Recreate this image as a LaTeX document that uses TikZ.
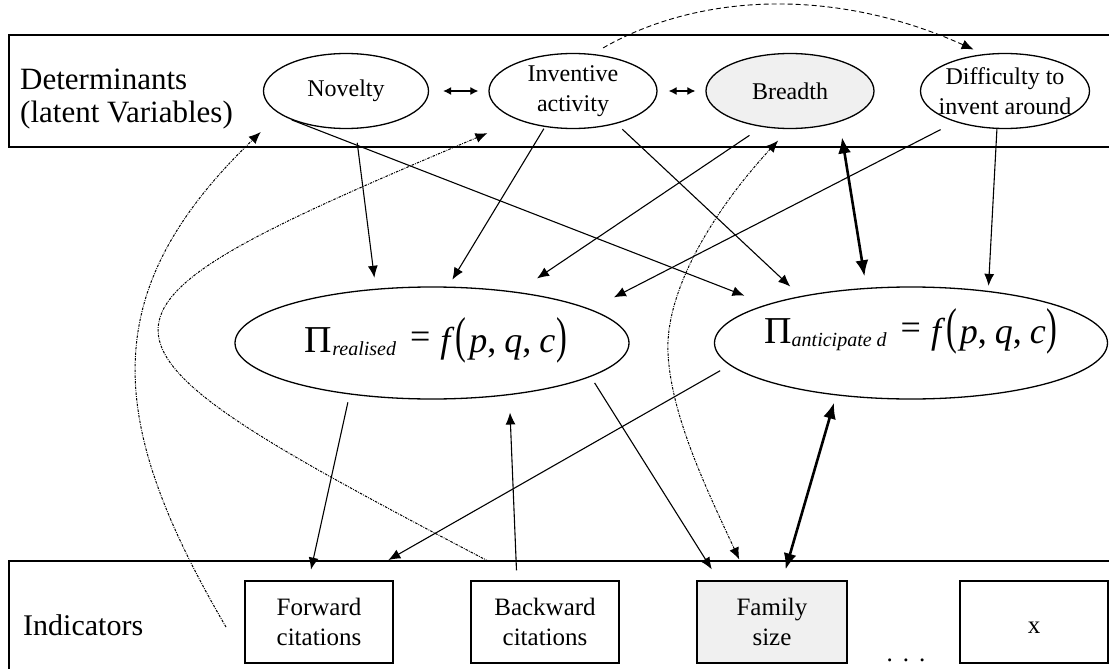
\documentclass[tikz,border=0pt]{standalone}
\usepackage{graphicx}
\usepackage{fontspec}
\setmainfont{Liberation Serif}
\usetikzlibrary{shapes.geometric,arrows.meta}
\definecolor{lightgrey}{HTML}{F0F0F0}
\newcommand{\profitof}[1]{%
  {\fontsize{38}{38}\selectfont Π}%
  \raisebox{-3pt}{\fontsize{20}{20}\selectfont\itshape #1}\hspace{14pt}%
  {\fontsize{36}{36}\selectfont \raisebox{4pt}{=}\hspace{10pt}\textit{f}\hspace{1pt}%
  \scalebox{0.9}[1.4]{(}\hspace{3pt}\textit{p},\hspace{8pt}\textit{q},\hspace{8pt}\textit{c}\hspace{1pt}%
  \scalebox{0.9}[1.4]{)}}}

\begin{document}
\begin{tikzpicture}[
    x=1pt, y=-1pt,
    latent/.style={ellipse, draw, line width=1.3pt, inner sep=0pt, minimum width=168pt,
      minimum height=75pt, align=center, font=\fontsize{24}{30}\selectfont},
    profit/.style={ellipse, draw, line width=1.3pt, inner sep=0pt, minimum width=394pt,
      minimum height=112pt},
    indic/.style={draw, line width=1.3pt, inner sep=0pt, minimum width=148pt,
      minimum height=82pt, align=center, font=\fontsize{25}{30}\selectfont},
    link/.style={-{Latex[length=12pt,width=10pt]}, line width=1.1pt},
    strong/.style={{Latex[length=16pt,width=13pt]}-{Latex[length=16pt,width=13pt]}, line width=2.6pt},
    pair/.style={{Latex[length=8pt,width=8pt]}-{Latex[length=8pt,width=8pt]}, line width=1.1pt},
    feedback/.style={line width=1pt, dash pattern=on 2.5pt off 1.2pt on 0.8pt off 1.2pt},
    overarc/.style={line width=0.9pt, dash pattern=on 5pt off 3pt},
  ]
  \useasboundingbox (0,0) rectangle (1109,669);

  % the two bands
  \draw[line width=1.3pt] (1109,35) -- (9,35) -- (9,147) -- (1109,147);
  \draw[line width=1.3pt] (1109,561) -- (9,561) -- (9,669);
  \node[anchor=west, align=left, inner sep=0pt, font=\fontsize{31}{33}\selectfont] (detlabel) at (20,99) {Determinants\\(latent Variables)};
  \node[anchor=west, inner sep=0pt, font=\fontsize{30}{32}\selectfont] (indlabel) at (23,625) {Indicators};

  % determinants
  \node[latent, minimum width=165pt] (nov) at (346,91) {Novelty};
  \node[latent] (inv) at (573,91) {Inventive\\activity};
  \node[latent, fill=lightgrey] (brd) at (790,91) {Breadth};
  \node[latent, minimum width=169pt] (dif) at (1005,91) {\makebox[100pt]{Difficulty to}\\\makebox[100pt]{invent around}};

  % profits
  \node[profit, text height=22pt, text depth=4pt] (preal) at (432,343) {\makebox[250pt]{\hspace{8pt}\profitof{realised}}};
  \node[profit, minimum width=393pt, text height=13pt, text depth=13pt] (pant) at (911,343) {\makebox[250pt]{\profitof{anticipate d}}};

  % indicators
  \node[indic] (fwd) at (319,622) {Forward\\citations};
  \node[indic] (bwd) at (545,622) {Backward\\citations};
  \node[indic, minimum width=150pt, fill=lightgrey] (fam) at (772,622) {Family\\size};
  \node[indic, text height=23pt] (xind) at (1034,622) {x};
  \node[anchor=base, inner sep=0pt, font=\fontsize{25}{30}\selectfont] (more) at (906,661) {.\hspace{10pt}.\hspace{10pt}.};

  \coordinate (astart) at (226,627);
  \coordinate (bstart) at (488,561);

  \draw[pair, shorten <=14pt, shorten >=10pt] (nov.east) -- (inv.west);
  \draw[pair, shorten <=11pt, shorten >=10pt] (inv.east) -- (brd.west);

  \draw[link, shorten <=14pt, shorten >=11pt] (nov.-76) -- (preal.136);
  \draw[link, shorten >=24pt] (nov.208.6) -- (pant.165.7);
  \draw[link, shorten <=2pt, shorten >=8pt] (inv.232.6) -- (preal.74.3);
  \draw[link, shorten <=8pt, shorten >=14pt] (inv.-37.6) -- (pant.157.5);
  \draw[link, shorten <=15pt, shorten >=24pt] (brd.-128.9) -- (preal.31.2);
  \draw[link, shorten <=16.6pt, shorten >=26pt] (dif.-148.3) -- (preal.12.2);
  \draw[link, shorten >=5pt] (dif.-102) -- (pant.34);
  \draw[strong, shorten <=15.6pt, shorten >=11.7pt] (brd.-32.2) -- (pant.129.6);
  \draw[strong, shorten <=7.6pt, shorten >=11.4pt] (pant.-145.7) -- (fam.76.4);

  \draw[link, shorten <=8pt, shorten >=11pt] (preal.-148.2) -- (fwd.104.2);
  \draw[link, shorten <=10pt, shorten >=17.4pt] (bwd.124.9) -- (preal.-34.1);
  \draw[link, shorten <=11pt, shorten >=41pt] (pant.187.9) -- (fwd.51);
  \draw[link, shorten <=7.3pt, shorten >=13pt] (preal.-12.1) -- (fam.142.3);

  % dotted feedback curves
  \draw[feedback, {Latex[length=12pt,width=10pt]}-{Latex[length=12pt,width=10pt]}, shorten <=15.5pt, shorten >=23pt]
    (brd.-92.3) .. controls (714,210) and (665,290) .. (668,353) .. controls (671,416) and (707,490) .. (fam.119.9);
  \draw[feedback, -{Latex[length=12pt,width=10pt]}, shorten >=33.5pt] (bstart) .. controls (50,332) and (50,318) .. (inv.208);
  \draw[feedback, -{Latex[length=12pt,width=10pt]}, shorten >=26pt] (astart) .. controls (105,420) and (96,291) .. (nov.199.4);
  \draw[overarc, -{Latex[length=12pt,width=10pt]}, shorten <=12pt, shorten >=11pt] (inv.62) .. controls (695,-5) and (830,-15) .. (dif.120.4);
\end{tikzpicture}
\end{document}
